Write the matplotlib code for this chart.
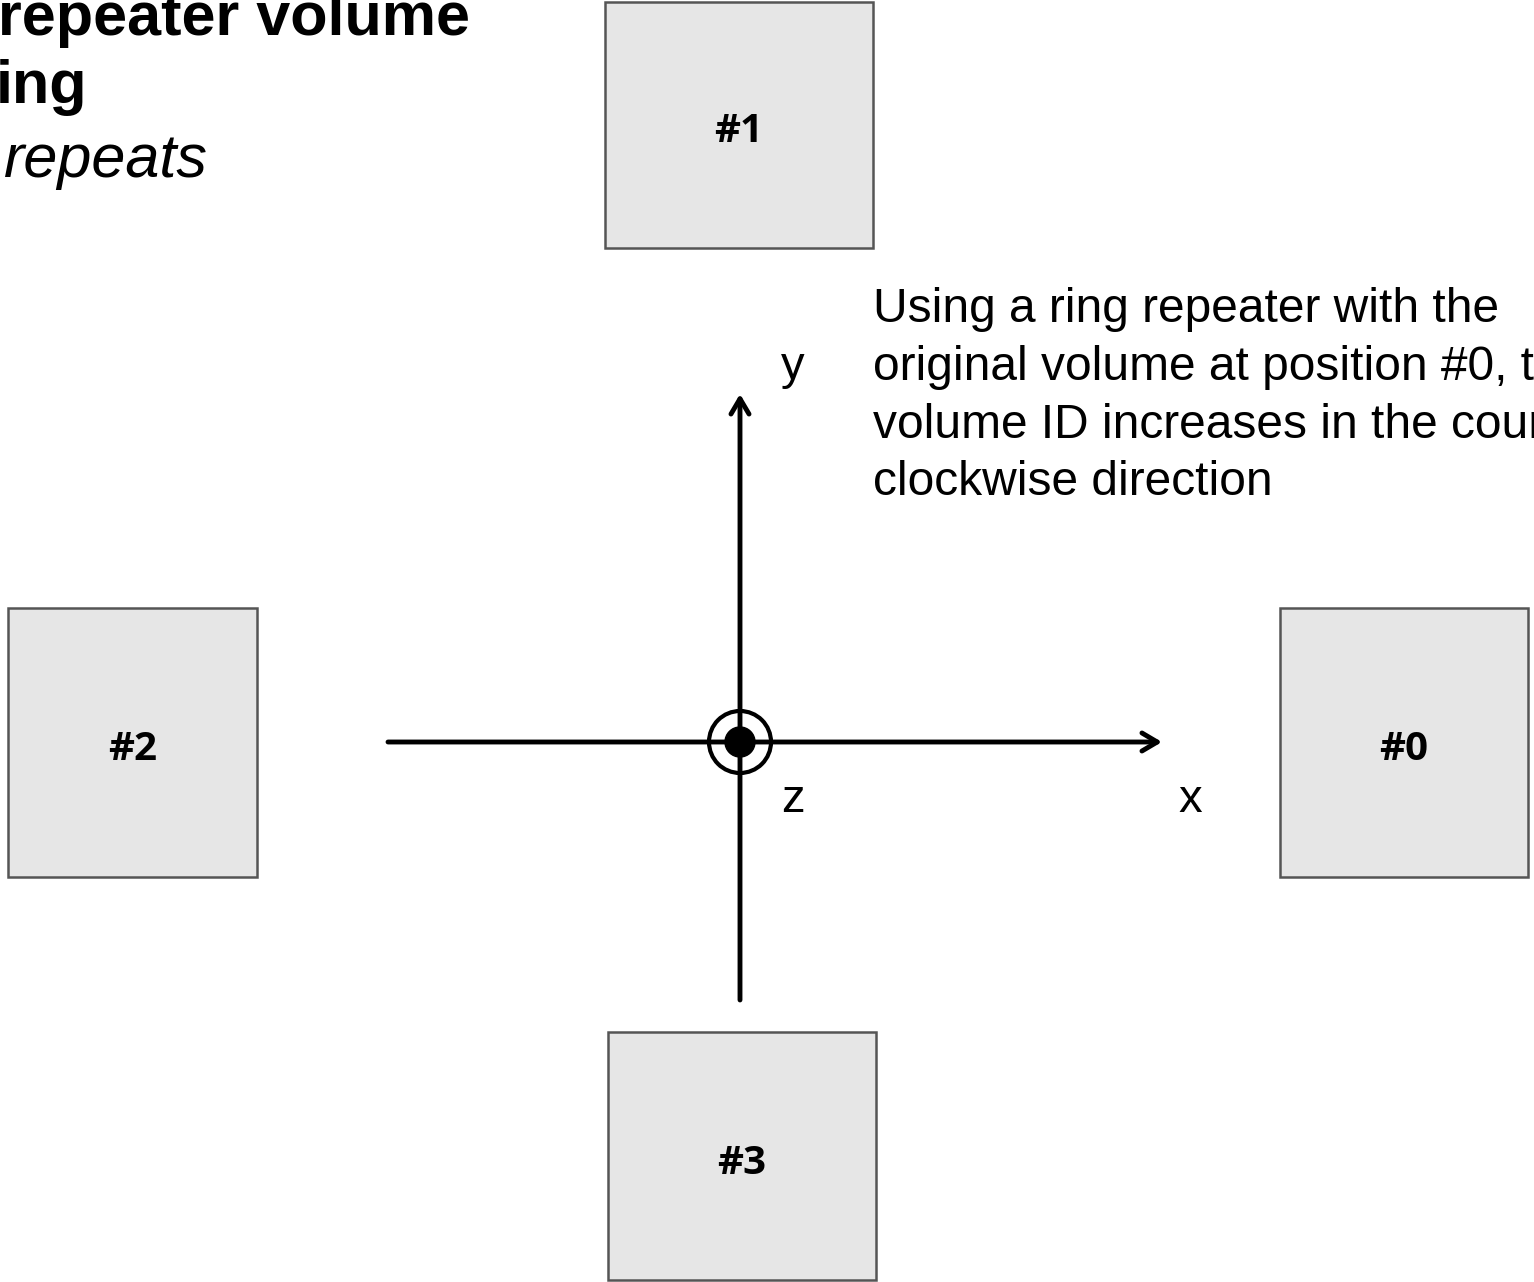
import matplotlib.pyplot as plt
from matplotlib.patches import Rectangle, Circle

# 画布按像素坐标 (1534 x 1282, y 向下)
W, H = 1534, 1282

# 四个重复体: 编号, 左, 上, 右, 下 (像素)
box_ids = ["#0", "#1", "#2", "#3"]
box_left = [1280, 605, 8, 608]
box_top = [608, 2, 608, 1032]
box_right = [1528, 873, 257, 876]
box_bottom = [877, 248, 877, 1280]

# 坐标轴
origin = (740, 742)
x_axis = (388, 1162)
y_axis = (1000, 394)
axis_labels = ["x", "y", "z"]
axis_label_pos = [(1190, 800), (793, 367), (793, 800)]

title_lines = ["repeater volume", "ing", "repeats"]
note_lines = [
    "Using a ring repeater with the",
    "original volume at position #0, t",
    "volume ID increases in the coun",
    "clockwise direction",
]

fig = plt.figure(figsize=(W / 100, H / 100), dpi=100)
ax = fig.add_axes([0, 0, 1, 1])
ax.set_xlim(0, W)
ax.set_ylim(H, 0)
ax.axis("off")

for bid, l, t, r, b in zip(box_ids, box_left, box_top, box_right, box_bottom):
    ax.add_patch(Rectangle((l, t), r - l, b - t, facecolor="#e6e6e6",
                           edgecolor="#555555", linewidth=1.8))
    ax.text((l + r) / 2, (t + b) / 2 + 7, bid, ha="center", va="center",
            fontsize=29, fontweight="bold", family="Open Sans")

# 坐标轴线和箭头
arrow = dict(arrowstyle="->,head_length=1.1,head_width=0.65", lw=3.5, color="black",
             shrinkA=0, shrinkB=0)
ax.annotate("", xy=(x_axis[1], origin[1]), xytext=(x_axis[0], origin[1]), arrowprops=arrow)
ax.annotate("", xy=(origin[0], y_axis[1]), xytext=(origin[0], y_axis[0]), arrowprops=arrow)

# z 轴 (指向屏幕外)
ax.add_patch(Circle(origin, 31, fill=False, edgecolor="black", linewidth=3))
ax.add_patch(Circle(origin, 15, color="black"))

for lab, (lx, ly) in zip(axis_labels, axis_label_pos):
    ax.text(lx, ly, lab, ha="center", va="center", fontsize=34, family="Liberation Sans")

# 标题 (左上角, 原图即被裁切)
ax.text(-2, 20, title_lines[0], ha="left", va="center", fontsize=44,
        fontweight="bold", family="Liberation Sans")
ax.text(-4, 88, title_lines[1], ha="left", va="center", fontsize=44,
        fontweight="bold", family="Liberation Sans")
ax.text(4, 162, title_lines[2], ha="left", va="center", fontsize=44,
        style="italic", family="Liberation Sans")

for i, line in enumerate(note_lines):
    ax.text(873, 310 + i * 57.5, line, ha="left", va="center", fontsize=34.5,
            family="Liberation Sans")

fig.savefig("out.png", dpi=100)
